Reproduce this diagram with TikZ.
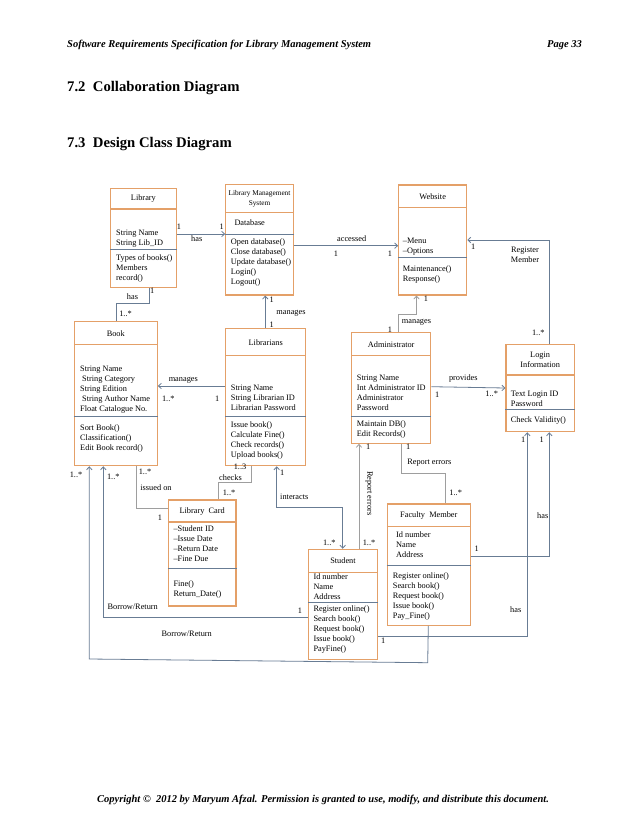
\documentclass[tikz,border=0pt]{standalone}
\usepackage{fontspec}
\setmainfont{Liberation Serif}
\usetikzlibrary{positioning,arrows.meta}
\definecolor{boxline}{RGB}{228,160,104}
\definecolor{connline}{RGB}{104,124,148}
\definecolor{conngray}{RGB}{158,158,158}
\newcommand{\umlfont}{\fontsize{8.3}{10}\selectfont}
\tikzset{
classbox/.style={draw=boxline, line width=1.1pt, fill=white, inner sep=0pt}, % class rectangle
titlerule/.style={draw=boxline, line width=1.1pt},
oprule/.style={draw=connline, line width=0.6pt},
ctitle/.style={font=\umlfont, align=center, inner sep=0pt},
ctext/.style={font=\umlfont, align=left, anchor=north west, inner sep=0pt},
lbl/.style={font=\umlfont, inner sep=0pt},
assoc/.style={draw=connline, line width=0.8pt},
assocgray/.style={draw=conngray, line width=0.8pt},
hdr/.style={font=\fontsize{10.5}{12}\selectfont\bfseries\itshape, inner sep=0pt},
sect/.style={font=\fontsize{14.7}{17}\selectfont\bfseries, inner sep=0pt},
}

\begin{document}
\begin{tikzpicture}[x=1pt,y=-1pt,>={Straight Barb[length=3pt,width=5.5pt]}]
\fill[white] (0,0) rectangle (638,826);
\useasboundingbox (0,0) rectangle (638,826);

% page texts
\node[hdr, anchor=west] (hdrL) at (67,45) {Software Requirements Specification for Library Management System};
\node[hdr, anchor=east] (hdrR) at (582,45) {Page 33};
\node[sect, anchor=west] (sec72) at (67,88) {7.2\ \ Collaboration Diagram};
\node[sect, anchor=west] (sec73) at (67,144) {7.3\ \ Design Class Diagram};
\node[hdr, anchor=west] (foot) at (97,800) {Copyright ©\ \ 2012 by Maryum Afzal. Permission is granted to use, modify, and distribute this document.};

% Library
\node[classbox, minimum width=65.3pt, minimum height=99pt] (lib) at (143.4,237.8) {};
\draw[titlerule] (lib.west |- 0,209) -- (lib.east |- 0,209);
\draw[oprule] (lib.west |- 0,249) -- (lib.east |- 0,249);
\node[ctitle] (libT) at (143.4,199) {Library};
\node[ctext] (libA) at (116,229.5) {String Name\\String Lib\_ID};
\node[ctext] (libM) at (116,254.2) {Types of books()\\Members\\record()};

% Library Management System
\node[classbox, minimum width=67.6pt, minimum height=110.7pt] (lms) at (259.5,239.65) {};
\draw[titlerule] (lms.west |- 0,212.3) -- (lms.east |- 0,212.3);
\draw[oprule] (lms.west |- 0,234) -- (lms.east |- 0,234);
\node[ctitle, font=\fontsize{7.3}{10}\selectfont] (lmsT) at (259.5,199) {Library Management\\System};
\node[ctext] (lmsA) at (234.3,219.5) {Database};
\node[ctext] (lmsM) at (230.7,238.5) {Open database()\\Close database()\\Update database()\\Login()\\Logout()};

% Website
\node[classbox, minimum width=68pt, minimum height=110pt] (web) at (432.7,240) {};
\draw[titlerule] (web.west |- 0,207.3) -- (web.east |- 0,207.3);
\draw[oprule] (web.west |- 0,257.3) -- (web.east |- 0,257.3);
\node[ctitle] (webT) at (432.7,196.7) {Website};
\node[ctext] (webA) at (402.7,237.5) {--Menu\\--Options};
\node[ctext] (webM) at (402.7,265.8) {Maintenance()\\Response()};

% Book
\node[classbox, minimum width=83pt, minimum height=144pt] (book) at (115.8,393.7) {};
\draw[titlerule] (book.west |- 0,344.3) -- (book.east |- 0,344.3);
\draw[oprule] (book.west |- 0,416.7) -- (book.east |- 0,416.7);
\node[ctitle] (bookT) at (115.8,333.3) {Book};
\node[ctext] (bookA) at (80,365.8) {String Name\\\hspace*{2pt}String Category\\String Edition\\\hspace*{2pt}String Author Name\\Float Catalogue No.};
\node[ctext] (bookM) at (80,424.8) {Sort Book()\\Classification()\\Edit Book record()};

% Librarians
\node[classbox, minimum width=80pt, minimum height=137.4pt] (libn) at (265.7,397) {};
\draw[titlerule] (libn.west |- 0,355.7) -- (libn.east |- 0,355.7);
\draw[oprule] (libn.west |- 0,416) -- (libn.east |- 0,416);
\node[ctitle] (libnT) at (265.7,342.7) {Librarians};
\node[ctext] (libnA) at (230.7,385.2) {String Name\\String Librarian ID\\Librarian Password};
\node[ctext] (libnM) at (230.7,421.2) {Issue book()\\Calculate Fine()\\Check records()\\Upload books()};

% Administrator
\node[classbox, minimum width=79pt, minimum height=110.6pt] (admin) at (391.2,388) {};
\draw[titlerule] (admin.west |- 0,355.3) -- (admin.east |- 0,355.3);
\draw[oprule] (admin.west |- 0,416.7) -- (admin.east |- 0,416.7);
\node[ctitle] (adminT) at (391.2,344.7) {Administrator};
\node[ctext] (adminA) at (356.7,375.2) {String Name\\Int Administrator ID\\Administrator\\Password};
\node[ctext] (adminM) at (356.7,420.8) {Maintain DB()\\Edit Records()};

% Login Information
\node[classbox, minimum width=68.3pt, minimum height=87.4pt] (login) at (540.15,388) {};
\draw[titlerule] (login.west |- 0,375) -- (login.east |- 0,375);
\draw[oprule] (login.west |- 0,409.3) -- (login.east |- 0,409.3);
\node[ctitle] (loginT) at (540.15,360) {Login\\Information};
\node[ctext] (loginA) at (510.7,390.5) {Text Login ID\\Password};
\node[ctext] (loginM) at (510.7,416.8) {Check Validity()};

% Library Card
\node[classbox, minimum width=67.7pt, minimum height=106pt] (card) at (202.15,553) {};
\draw[titlerule] (card.west |- 0,522) -- (card.east |- 0,522);
\draw[oprule] (card.west |- 0,568.3) -- (card.east |- 0,568.3);
\node[ctitle] (cardT) at (202.15,511.7) {Library\ \ Card};
\node[ctext] (cardA) at (173.3,525.5) {--Student ID\\--Issue Date\\--Return Date\\--Fine Due};
\node[ctext] (cardM) at (173.3,580.8) {Fine()\\Return\_Date()};

% Student
\node[classbox, minimum width=68.6pt, minimum height=110pt] (student) at (343,604.3) {};
\draw[titlerule] (student.west |- 0,572.7) -- (student.east |- 0,572.7);
\draw[oprule] (student.west |- 0,602.7) -- (student.east |- 0,602.7);
\node[ctitle] (studentT) at (343,561) {Student};
\node[ctext] (studentA) at (313.3,573.8) {Id number\\Name\\Address};
\node[ctext] (studentM) at (313.3,605.8) {Register online()\\Search book()\\Request book()\\Issue book()\\PayFine()};

% Faculty Member
\node[classbox, minimum width=83pt, minimum height=121.3pt] (faculty) at (428.8,564.65) {};
\draw[titlerule] (faculty.west |- 0,526.7) -- (faculty.east |- 0,526.7);
\draw[oprule] (faculty.west |- 0,565) -- (faculty.east |- 0,565);
\node[ctitle] (facultyT) at (428.8,516) {Faculty\ \ Member};
\node[ctext] (facultyA) at (396,531.5) {Id number\\Name\\Address};
\node[ctext] (facultyM) at (392.7,572.8) {Register online()\\Search book()\\Request book()\\Issue book()\\Pay\_Fine()};

% associations
\draw[assoc,->] (lib.east |- 0,234) -- (lms.west |- 0,234);
\node[lbl] (hasA1) at (179,227) {1};
\node[lbl] (hasA2) at (221.7,227) {1};
\node[lbl] (hasA) at (196.7,238.7) {has};

\draw[assoc,->] (lms.east |- 0,245.7) -- (web.west |- 0,245.7);
\node[lbl] (accA) at (351.7,238.3) {accessed};
\node[lbl] (acc1) at (336,253.3) {1};
\node[lbl] (acc2) at (390,253.3) {1};

\draw[assoc,->] (login.north -| 549.3,0) |- (web.east |- 0,240);
\node[lbl] (regW) at (473.3,246.7) {1};
\node[lbl, align=center] (regA) at (525,255) {Register\\Member};
\node[lbl] (regL) at (538.3,332.7) {1..*};

\draw[assocgray,->] (admin.north -| 398.3,0) |- (416.5,314) -- (web.south -| 416.5,0);
\node[lbl] (manW) at (416.5,322.3) {manages};
\node[lbl] (manW1) at (390,329.3) {1};
\node[lbl] (manW2) at (426,298.3) {1};

\draw[assoc] (lib.south -| 149,0) |- (116.7,303.3) -- (book.north -| 116.7,0);
\node[lbl] (hasB1) at (152.3,291) {1};
\node[lbl] (hasB) at (132.5,297) {has};
\node[lbl] (hasB2) at (125.5,314.3) {1..*};

\draw[assoc,->] (libn.north -| 265.3,0) -- (lms.south -| 265.3,0);
\node[lbl] (manL) at (291,313.3) {manages};
\node[lbl] (manL1) at (271.7,300) {1};
\node[lbl] (manL2) at (271.7,324.3) {1};

\draw[assoc,->] (libn.west |- 0,386) -- (book.east |- 0,386);
\node[lbl] (manB) at (183.3,380) {manages};
\node[lbl] (manB1) at (168.3,398.7) {1..*};
\node[lbl] (manB2) at (217.3,398.7) {1};

\draw[assoc,->] (admin.east |- 0,386.7) -- (login.west |- 0,388);
\node[lbl] (prov) at (463.3,379) {provides};
\node[lbl] (prov1) at (437.3,394.3) {1};
\node[lbl] (prov2) at (491.7,394.3) {1..*};

\draw[assocgray] (book.south -| 136,0) |- (card.west |- 0,508.3);
\node[lbl] (iss1) at (145,472.3) {1..*};
\node[lbl] (iss) at (156,487.3) {issued on};
\node[lbl] (iss2) at (160,517.3) {1};

\draw[assocgray] (libn.south -| 251,0) |- (218.3,482.7) -- (card.north -| 218.3,0);
\node[lbl] (chk1) at (240,466.7) {1..3};
\node[lbl] (chk) at (230.5,477.7) {checks};
\node[lbl] (chk2) at (229,492.7) {1..*};

\draw[assoc,<->] (libn.south -| 276.7,0) |- (342.7,507.7) -- (student.north -| 342.7,0);
\node[lbl] (int1) at (282.3,472.3) {1};
\node[lbl] (int) at (294.3,496.7) {interacts};
\node[lbl] (int2) at (329.3,542.7) {1..*};

\draw[assocgray,->] (student.north -| 359,0) -- (admin.south -| 359,0);
\node[lbl, rotate=-90] (repS) at (369.3,493.3) {Report errors};
\node[lbl] (repS1) at (368.3,446.7) {1};
\node[lbl] (repS2) at (369,542.7) {1..*};

\draw[assocgray] (admin.south -| 401.7,0) |- (445,473.3) -- (faculty.north -| 445,0);
\node[lbl] (repF) at (429.3,462.3) {Report errors};
\node[lbl] (repF1) at (408.3,446.7) {1};
\node[lbl] (repF2) at (455.7,492.7) {1..*};

\draw[assoc,->] (faculty.east |- 0,556) -| (login.south -| 549.3,0);
\node[lbl] (hasF1) at (476.7,549) {1};
\node[lbl] (hasF) at (542.7,515.7) {has};
\node[lbl] (hasF2) at (541.7,439.3) {1};

\draw[assoc,->] (student.east |- 0,636) -| (login.south -| 527.3,0);
\node[lbl] (hasS) at (515.7,610) {has};
\node[lbl] (hasS1) at (383.3,641) {1};
\node[lbl] (hasS2) at (523.3,439.3) {1};

\draw[assoc,->] (student.west |- 0,617) -| (book.south -| 103.3,0);
\node[lbl] (brS) at (132.7,606.7) {Borrow/Return};
\node[lbl] (brS1) at (300,610.7) {1};
\node[lbl] (brS2) at (113.3,476.7) {1..*};

\draw[assoc,->] (faculty.south -| 428.3,0) -- (427.7,662.7) -- (89.3,659) -- (book.south -| 89.3,0);
\node[lbl] (brF) at (186.7,633.3) {Borrow/Return};
\node[lbl] (brF2) at (76,475) {1..*};
\end{tikzpicture}
\end{document}
